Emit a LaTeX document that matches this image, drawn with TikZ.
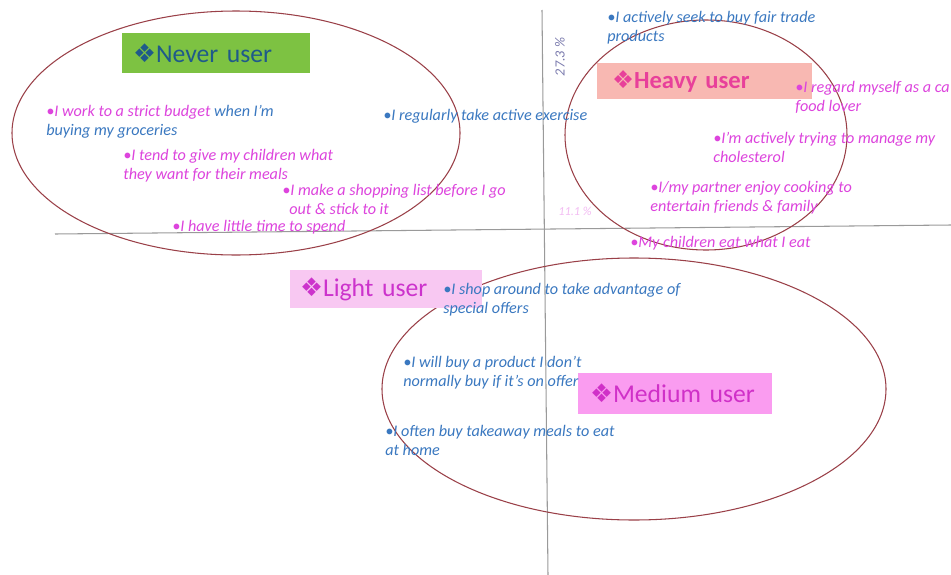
\documentclass[tikz,border=0pt]{standalone}
\usepackage{fontspec}
\setmainfont{Carlito}
\newfontfamily\symf{DejaVu Sans}
\definecolor{tblue}{HTML}{3A78C0}
\definecolor{tpink}{HTML}{DD44DD}
\definecolor{ellc}{HTML}{9A4048}
\definecolor{axisc}{HTML}{9A9A9A}
\definecolor{nevbox}{HTML}{7DC242}
\definecolor{nevtxt}{HTML}{1F5A8A}
\definecolor{heabox}{HTML}{F8B8B2}
\definecolor{heatxt}{HTML}{E8409A}
\definecolor{ligbox}{HTML}{F8C8F2}
\definecolor{ligtxt}{HTML}{CC33CC}
\definecolor{medbox}{HTML}{FA9CF0}
\definecolor{medtxt}{HTML}{D030C8}
\begin{document}
\begin{tikzpicture}[x=0.02cm,y=-0.02cm,
  stmt/.style={anchor=north west, inner sep=0pt, align=left, font=\fontsize{9.2}{10.8}\selectfont\itshape},
  blu/.style={stmt, text=tblue},
  pnk/.style={stmt, text=tpink},
  lbl/.style={rectangle, inner ysep=0pt, align=left, font=\fontsize{14.6}{16}\selectfont},
  ell/.style={draw=ellc, line width=0.6pt},
  axisline/.style={draw=axisc, line width=0.6pt}
]
\useasboundingbox (0,0) rectangle (951,575);
\fill[white] (0,0) rectangle (951,575);

% axes
\coordinate (hl) at (55,234);
\coordinate (hr) at (951,225);
\coordinate (vt) at (542,10);
\coordinate (vb) at (548,575);
\draw[axisline] (hl) -- (hr);
\draw[axisline] (vt) -- (vb);
\node[rotate=90, text=axisc!80!blue, font=\fontsize{8}{9}\selectfont\itshape] (ax1) at (560,57) {27.3 \%};
\node[text=tpink!35, font=\fontsize{7}{8}\selectfont\itshape] (ax2) at (575,211) {11.1 \%};

% ellipses
\draw[ell] (236,133) ellipse (224 and 122);
\draw[ell] (706,135) ellipse (141 and 115);
\draw[ell] (634,389) ellipse (252 and 131);

% group labels
\node[lbl, fill=nevbox, text=nevtxt, minimum width=3.76cm, minimum height=0.8cm, text width=3.32cm, inner xsep=0.22cm] (never) at (216,53) {{\symf ❖}Never user};
\node[lbl, fill=heabox, text=heatxt, minimum width=4.3cm, minimum height=0.72cm, text width=3.7cm, inner xsep=0.3cm, font=\fontsize{14}{16}\selectfont\bfseries] (heavy) at (704.5,81) {{\symf\mdseries ❖}Heavy user};
\node[lbl, fill=ligbox, text=ligtxt, minimum width=3.84cm, minimum height=0.76cm, text width=3.44cm, inner xsep=0.2cm] (light) at (386,289) {{\symf ❖}Light user};
\node[lbl, fill=medbox, text=medtxt, minimum width=3.88cm, minimum height=0.82cm, text width=3.4cm, inner xsep=0.24cm] (medium) at (675,393.5) {{\symf ❖}Medium user};

% statements
\node[blu] (s1) at (46,105) {\textcolor{tpink}{•I work to a strict budget} when I'm\\buying my groceries};
\node[pnk] (s2) at (123,149) {•I tend to give my children what\\they want for their meals};
\node[pnk] (s3) at (282,184) {•I make a shopping list before I go\\\hspace*{4pt}out \& stick to it};
\node[pnk] (s4) at (172,220) {•I have little time to spend};
\node[blu] (s5) at (383,109) {•I regularly take active exercise};
\node[blu] (s6) at (607,11) {•I actively seek to buy fair trade\\products};
\node[pnk] (s7) at (795,81) {•I regard myself as a ca\\food lover};
\node[pnk] (s8) at (713,132) {•I'm actively trying to manage my\\cholesterol};
\node[pnk] (s9) at (650,181) {•I/my partner enjoy cooking to\\entertain friends \& family};
\node[pnk] (s10) at (630,236) {•My children eat what I eat};
\node[blu] (s11) at (443,283) {•I shop around to take advantage of\\special offers};
\node[blu] (s12) at (403,356) {•I will buy a product I don't\\normally buy if it's on offer};
\node[blu] (s13) at (385,425) {•I often buy takeaway meals to eat\\at home};
\end{tikzpicture}
\end{document}
